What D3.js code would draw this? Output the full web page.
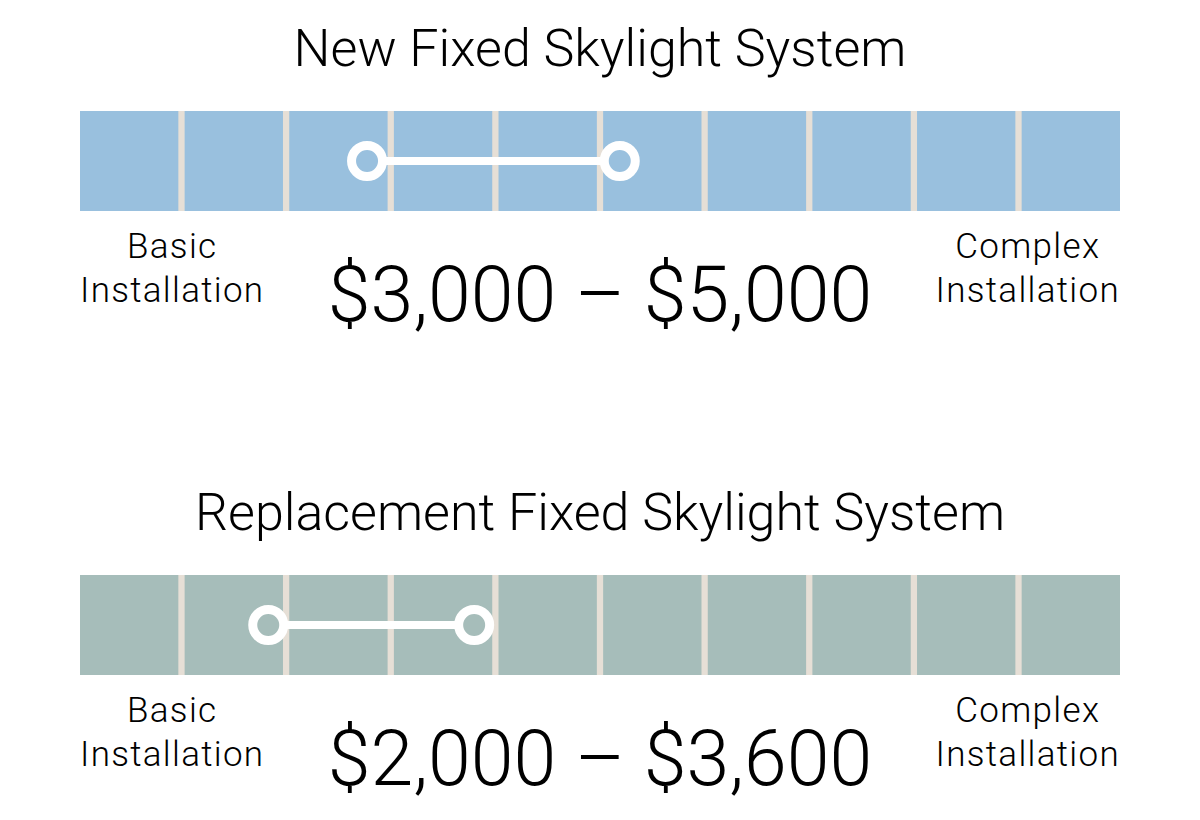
<!DOCTYPE html>
<html>
<head>
<meta charset="utf-8">
<script src="https://cdn.jsdelivr.net/npm/d3@7"></script>
<style>
  body { margin: 0; background: #fff; }
  svg { display: block; font-family: Roboto, "Noto Sans", sans-serif; font-weight: 300; }
</style>
</head>
<body>
<svg></svg>
<script>
// chart data
var titles = ["New Fixed Skylight System", "Replacement Fixed Skylight System"];
var lowPrices = [3000, 2000];
var highPrices = [5000, 3600];
// where each range sits on the basic -> complex scale (0..10 cells)
var markerLow = [2.76, 1.81];
var markerHigh = [5.19, 3.79];
var cells = d3.range(10);
var leftLabel = ["Basic", "Installation"];
var rightLabel = ["Complex", "Installation"];
var barColors = ["#99c0de", "#a6bdba"];

var width = 1200, height = 820;
var svg = d3.select("svg").attr("width", width).attr("height", height);

var x = d3.scaleLinear().domain([0, 10]).range([80, 1120]);
var band = d3.scaleBand().domain(cells).range([80, 1120]).paddingInner(0.06);
var money = d3.format("$,");

var panelTop = d3.scaleOrdinal().domain([0, 1]).range([0, 464]);

titles.forEach(function(title, i) {
  var g = svg.append("g").attr("transform", "translate(0," + panelTop(i) + ")");

  g.append("text")
    .attr("x", 600).attr("y", 66)
    .attr("text-anchor", "middle")
    .style("font-size", "52px")
    .text(title);

  // bar with gaps showing through
  g.append("rect")
    .attr("x", 80).attr("y", 111)
    .attr("width", 1040).attr("height", 100)
    .attr("fill", "#e6dfd6");

  g.selectAll(".cell")
    .data(cells)
    .enter().append("rect")
    .attr("class", "cell")
    .attr("x", d => band(d))
    .attr("y", 111)
    .attr("width", band.bandwidth())
    .attr("height", 100)
    .attr("fill", barColors[i]);

  // range marker
  g.append("line")
    .attr("x1", x(markerLow[i])).attr("x2", x(markerHigh[i]))
    .attr("y1", 161).attr("y2", 161)
    .attr("stroke", "#fff").attr("stroke-width", 8);

  g.selectAll(".end")
    .data([markerLow[i], markerHigh[i]])
    .enter().append("circle")
    .attr("class", "end")
    .attr("cx", d => x(d)).attr("cy", 161)
    .attr("r", 15.5)
    .attr("fill", barColors[i])
    .attr("stroke", "#fff").attr("stroke-width", 9);

  // end labels, left one flush with the bar start, right one with the bar end
  [[leftLabel, "start"], [rightLabel, "end"]].forEach(function(a) {
    var t = g.append("text")
      .style("font-size", "35px")
      .style("letter-spacing", "1.3px")
      .attr("text-anchor", "middle")
      .attr("y", 258);
    t.selectAll("tspan")
      .data(a[0])
      .enter().append("tspan")
      .attr("x", 0)
      .attr("dy", (d, k) => k ? 44 : 0)
      .text(d => d);
    var w = t.node().getBBox().width;
    var cx = a[1] == "start" ? 80 + w / 2 : 1120 - w / 2;
    t.selectAll("tspan").attr("x", cx);
  });

  g.append("text")
    .attr("x", 600).attr("y", 321)
    .attr("text-anchor", "middle")
    .style("font-size", "77px")
    .text(money(lowPrices[i]) + " \u2013 " + money(highPrices[i]));
});
</script>
</body>
</html>
